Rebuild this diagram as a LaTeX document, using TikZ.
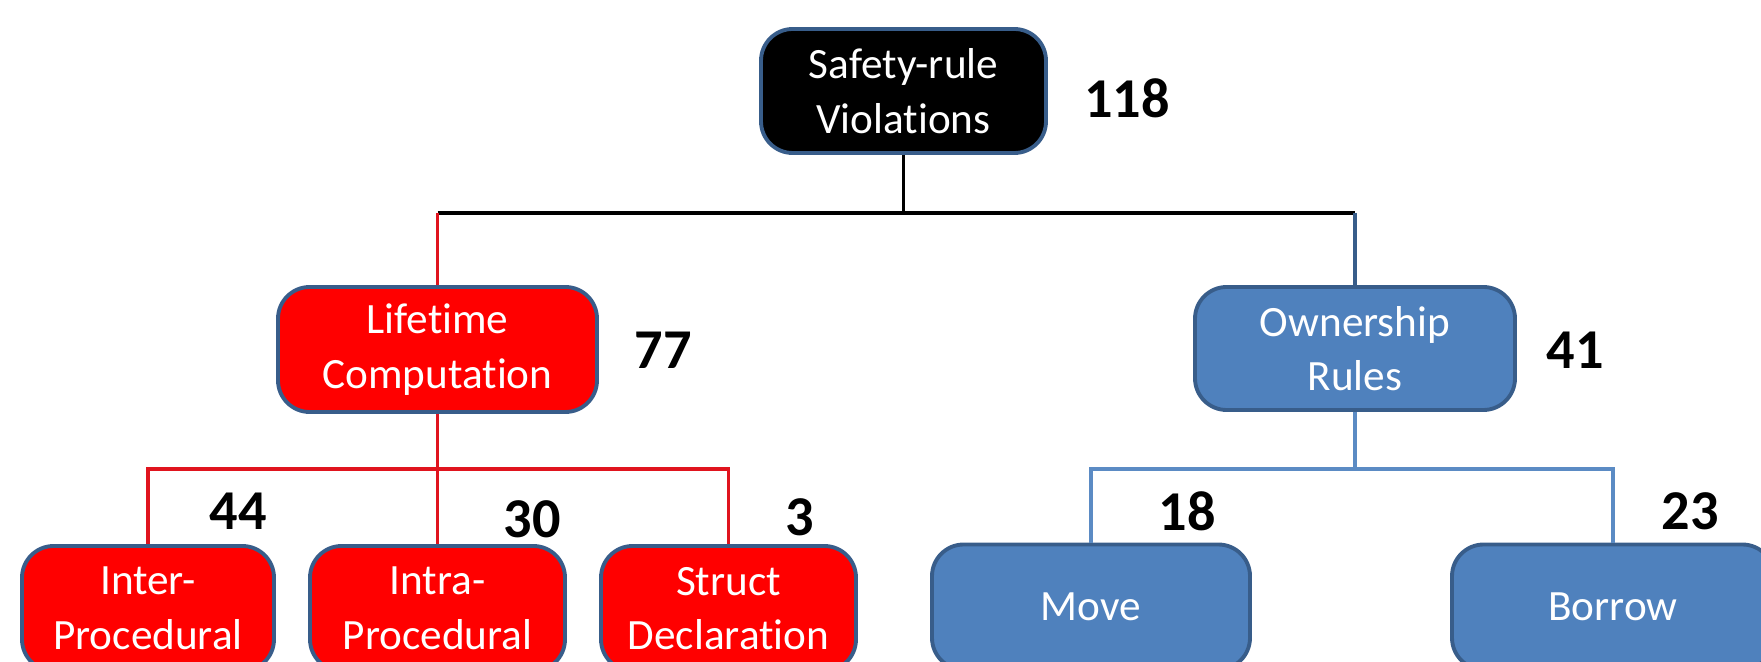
\documentclass[tikz,border=0pt]{standalone}
\usepackage{fontspec}
\setmainfont{Carlito}[Ligatures=NoCommon]
\usepackage{xcolor}
\definecolor{boxred}{HTML}{FF0000}
\definecolor{boxblue}{HTML}{4F81BD}
\definecolor{boxedge}{HTML}{385D8A}
\definecolor{linered}{HTML}{E0141E}
\definecolor{lineblue}{HTML}{5B8BC4}

\begin{document}
\begin{tikzpicture}[
    catbox/.style={rectangle, rounded corners=9pt, draw=boxedge, line width=1.1pt,
      text=white, align=center, font=\fontsize{12.3}{15.5}\selectfont, inner sep=0pt},
    count/.style={font=\fontsize{16}{18}\selectfont\bfseries, text=black},
    blkline/.style={black, line width=1.1pt},
    redline/.style={linered, line width=1.1pt},
    blueline/.style={lineblue, line width=1.1pt},
    navyline/.style={boxedge, line width=1.1pt}]
  \clip (0,0) rectangle (17.61,-6.62);
  % root
  \node[catbox, fill=black, minimum width=2.85cm, minimum height=1.24cm] (root) at (9.035,-0.91)
    {Safety-rule\\Violations};
  \node[count] (nroot) at (11.27,-0.98) {118};
  % second level
  \node[catbox, fill=boxred, minimum width=3.19cm, minimum height=1.25cm] (life) at (4.375,-3.495)
    {Lifetime\\Computation};
  \node[count] (nlife) at (6.63,-3.5) {77};
  \node[catbox, fill=boxblue, minimum width=3.2cm, minimum height=1.23cm] (own) at (13.55,-3.485)
    {Ownership\\Rules};
  \node[count] (nown) at (15.75,-3.5) {41};
  % leaves
  \node[catbox, fill=boxred, minimum width=2.52cm, minimum height=1.25cm] (inter) at (1.48,-6.085)
    {Inter-\\Procedural};
  \node[count] (ninter) at (2.38,-5.11) {44};
  \node[catbox, fill=boxred, minimum width=2.55cm, minimum height=1.25cm] (intra) at (4.375,-6.085)
    {Intra-\\Procedural};
  \node[count] (nintra) at (5.32,-5.19) {30};
  \node[catbox, fill=boxred, minimum width=2.55cm, minimum height=1.25cm] (struct) at (7.285,-6.085)
    {Struct\\Declaration};
  \node[count] (nstruct) at (8.0,-5.17) {3};
  \node[catbox, fill=boxblue, minimum width=3.18cm, minimum height=1.25cm] (move) at (10.91,-6.07)
    {Move};
  \node[count] (nmove) at (11.87,-5.11) {18};
  \node[catbox, fill=boxblue, minimum width=3.22cm, minimum height=1.25cm] (borrow) at (16.13,-6.07)
    {Borrow};
  \node[count] (nborrow) at (16.9,-5.11) {23};
  % connectors
  \coordinate (bartop) at (0,-2.13);
  \coordinate (barlow) at (0,-4.69);
  \draw[blkline] (root.south) -- (root.south |- bartop);
  \draw[blkline] (life.north |- bartop) -- (own.north |- bartop);
  \draw[redline] (life.north |- bartop) -- (life.north);
  \draw[navyline] (own.north |- bartop) -- (own.north);
  \draw[redline] (life.south) -- (intra.north);
  \draw[redline] (inter.north) -- (inter.north |- barlow) -- (struct.north |- barlow) -- (struct.north);
  \draw[blueline] (own.south) -- (own.south |- barlow);
  \draw[blueline] (move.north) -- (move.north |- barlow) -- (borrow.north |- barlow) -- (borrow.north);
\end{tikzpicture}
\end{document}
